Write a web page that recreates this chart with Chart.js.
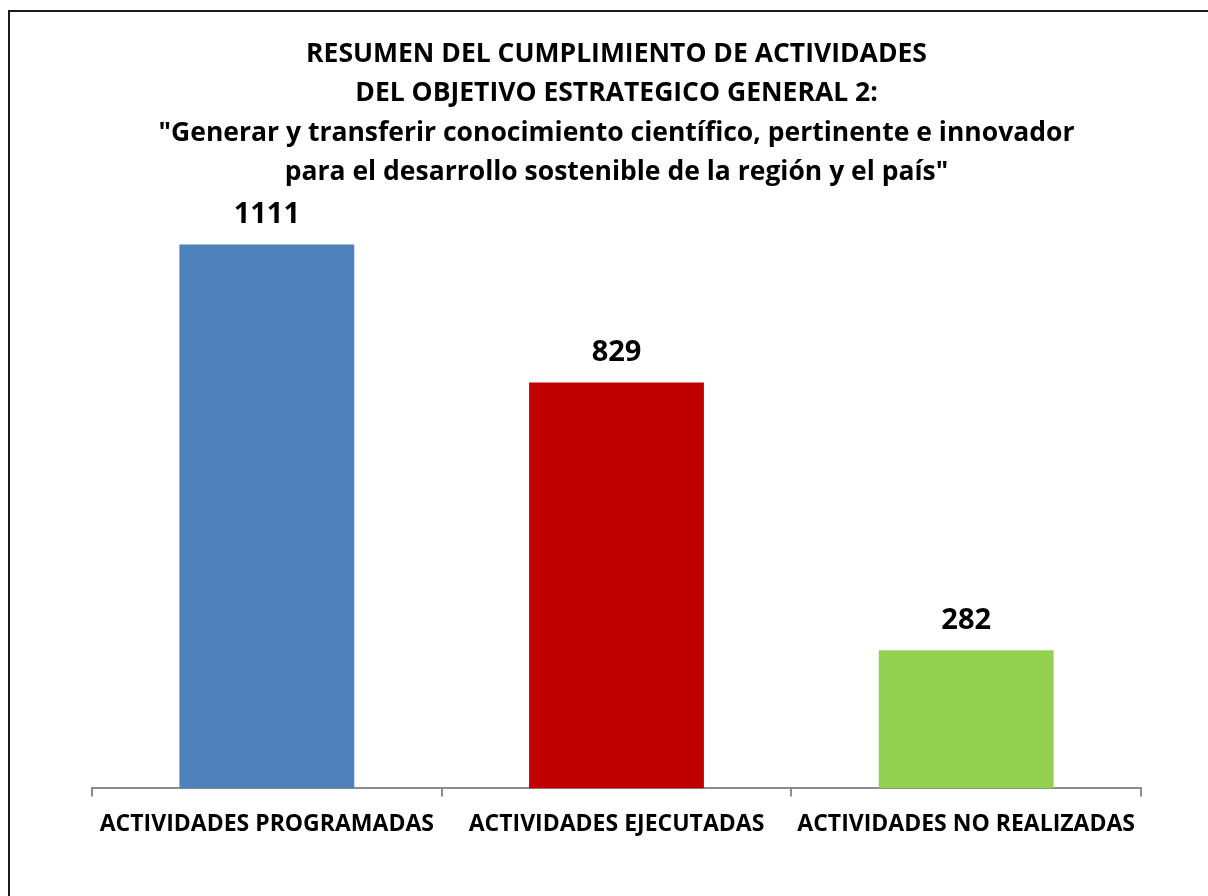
<!DOCTYPE html>
<html>
<head>
<meta charset="utf-8">
<script src="https://cdn.jsdelivr.net/npm/chart.js@4/dist/chart.umd.min.js"></script>
<style>
  html, body { margin: 0; padding: 0; background: #fff; overflow: hidden; }
  #frame {
    position: absolute; left: 8px; top: 10px; width: 1300px; height: 1000px;
    border-left: 2px solid #1a1a1a; border-top: 2px solid #1a1a1a;
  }
  #wrap { position: absolute; left: 0; top: 0; width: 1208px; height: 896px; }
</style>
</head>
<body>
<div id="frame"></div>
<div id="wrap"><canvas id="chart"></canvas></div>
<script>
const titleLines = [
    "RESUMEN DEL CUMPLIMIENTO DE ACTIVIDADES",
    "DEL OBJETIVO ESTRATEGICO GENERAL 2:",
    "\"Generar y transferir conocimiento científico, pertinente e innovador",
    "para el desarrollo sostenible de la región y el país\""
];
const categories = ["ACTIVIDADES PROGRAMADAS", "ACTIVIDADES EJECUTADAS", "ACTIVIDADES NO REALIZADAS"];
const values = [1111, 829, 282];
const barColors = ["#4F81BD", "#C00000", "#92D050"];

const FONT = "'Open Sans', sans-serif";

// draws the number above each bar
const valueLabels = {
    id: "valueLabels",
    afterDatasetsDraw(chart) {
        const ctx = chart.ctx;
        const meta = chart.getDatasetMeta(0);
        ctx.save();
        ctx.font = "bold 29px " + FONT;
        ctx.fillStyle = "#000";
        ctx.textAlign = "center";
        ctx.textBaseline = "middle";
        meta.data.forEach((bar, i) => {
            ctx.fillText(String(values[i]), bar.x, bar.y - 30);
        });
        ctx.restore();
    }
};

const ctx = document.getElementById("chart").getContext("2d");

let chart = new Chart(ctx, {
    type: "bar",
    data: {
        labels: categories,
        datasets: [{
            data: values,
            backgroundColor: barColors,
            barPercentage: 0.5,
            categoryPercentage: 1.0
        }]
    },
    options: {
        responsive: true,
        maintainAspectRatio: false,
        animation: false,
        layout: { padding: { left: 92, right: 67, top: 35, bottom: 44 } },
        plugins: {
            legend: { display: false },
            tooltip: { enabled: false },
            title: {
                display: true,
                text: titleLines,
                color: "#000",
                font: { family: FONT, size: 26.5, weight: "bold", lineHeight: 1.48 },
                padding: { top: 0, bottom: 9 }
            }
        },
        scales: {
            x: {
                grid: {
                    offset: true,
                    drawOnChartArea: false,
                    drawTicks: true,
                    tickLength: 8,
                    color: "#8c8c8c",
                    lineWidth: 2
                },
                border: { color: "#8c8c8c", width: 2 },
                ticks: {
                    color: "#000",
                    padding: 14,
                    maxRotation: 0,
                    font: { family: FONT, size: 23, weight: "bold" }
                }
            },
            y: {
                display: false,
                min: 0,
                max: 1200
            }
        }
    },
    plugins: [valueLabels]
});
</script>
</body>
</html>
